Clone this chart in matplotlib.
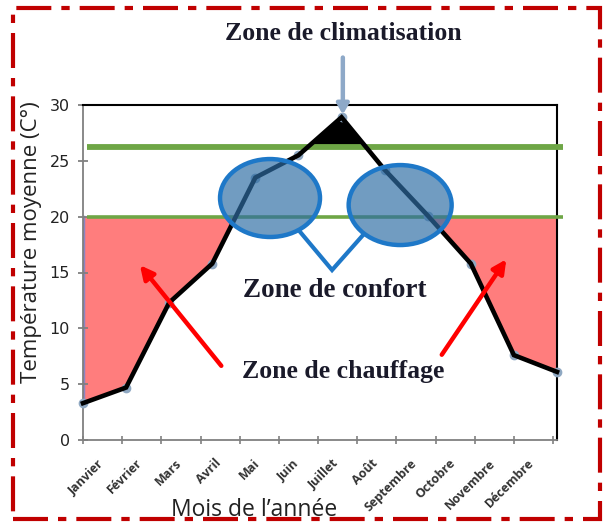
import numpy as np
import matplotlib
matplotlib.use("Agg")
import matplotlib.pyplot as plt
from matplotlib.patches import Ellipse, Rectangle
from matplotlib.transforms import ScaledTranslation

# ---- data ----
months = ['Janvier', 'Février', 'Mars', 'Avril', 'Mai', 'Juin', 'Juillet',
          'Août', 'Septembre', 'Octobre', 'Novembre', 'Décembre']
temps = [3.3, 4.7, 12.3, 15.8, 23.5, 25.5, 28.9, 24.2, 20.1, 15.8, 7.6, 6.1]
comfort_low = 20.0
comfort_high = 26.2
yticks = [0, 5, 10, 15, 20, 25, 30]

x = np.arange(len(months))
y = np.array(temps)

fig = plt.figure(figsize=(6.08, 5.22), dpi=100)
fig.patch.set_facecolor('white')

W, H = 608, 522
def fx(px): return px / W
def fy(py): return 1 - py / H

ax = fig.add_axes([fx(83), fy(440), fx(557) - fx(83), fy(105) - fy(440)])
ax.set_xlim(0, len(months) - 1)
ax.set_ylim(0, 30)

# heating zone fill
ax.fill_between(x, y, comfort_low, where=y <= comfort_low, interpolate=True,
                color='#FF7D7D', lw=0, zorder=1)
ax.plot([x[0], x[0]], [y[0], comfort_low], color='#8C84C4', lw=2.5, zorder=1.5)
ax.plot([x[-1], x[-1]], [y[-1], comfort_low], color='#B8C4E8', lw=1.5, zorder=1.5)
# cooling zone fill
ax.fill_between(x, y, comfort_high, where=y >= comfort_high, interpolate=True,
                color='black', lw=0, zorder=2)

# comfort limits
ax.plot([0.1, 11.15], [comfort_high, comfort_high], color='#6EA646', lw=4.2,
        zorder=3, clip_on=False, solid_capstyle='butt')
ax.plot([0.1, 11.15], [comfort_low, comfort_low], color='#6EA646', lw=2.6,
        zorder=3, clip_on=False, solid_capstyle='butt')

# temperature line
ax.plot(x, y, color='#8FA8C2', lw=0, marker='o', ms=6, zorder=3.5, clip_on=False)
ax.plot(x, y, color='black', lw=3.3, zorder=4, clip_on=False,
        solid_joinstyle='miter')

# comfort ellipses + connector
for (cx, cy, w, h) in [(4.34, 21.67, 2.32, 6.98), (7.36, 21.04, 2.39, 7.16)]:
    ax.add_patch(Ellipse((cx, cy), w, h, facecolor='#2E6DA4', alpha=0.68,
                         lw=0, zorder=5))
    ax.add_patch(Ellipse((cx, cy), w, h, facecolor='none', edgecolor='#1E78C8',
                         lw=3.2, zorder=5.5))
ax.plot([5.04, 5.78, 6.50], [18.63, 15.22, 18.36], color='#1E78C8', lw=3,
        zorder=5.5, solid_joinstyle='miter')

# arrows
ax.annotate('', xy=(6.03, 28.9), xytext=(6.03, 34.5), annotation_clip=False,
            arrowprops=dict(arrowstyle='-|>,head_width=0.35,head_length=0.6',
                            color='#8EA9C8', lw=3.2), zorder=6)
ax.annotate('', xy=(1.28, 15.85), xytext=(3.25, 6.45),
            arrowprops=dict(arrowstyle='-|>,head_width=0.4,head_length=0.8',
                            color='#FF0000', lw=3.2), zorder=6)
ax.annotate('', xy=(9.86, 16.39), xytext=(8.29, 7.43),
            arrowprops=dict(arrowstyle='-|>,head_width=0.4,head_length=0.8',
                            color='#FF0000', lw=3.2), zorder=6)

# zone texts
serif = ['Liberation Serif', 'DejaVu Serif']
ax.text(5.85, 13.43, 'Zone de confort', fontsize=19.5, fontweight='bold',
        family=serif, ha='center', va='center', color='#1A1A2A', zorder=7)
ax.text(6.03, 6.09, 'Zone de chauffage', fontsize=18.5, fontweight='bold',
        family=serif, ha='center', va='center', color='#1A1A2A', zorder=7)
fig.text(fx(343), fy(34), 'Zone de climatisation', fontsize=18.5,
         fontweight='bold', family=serif, ha='center', va='center',
         color='#1A1A2A')

# axes styling
for s in ['top', 'right']:
    ax.spines[s].set_color('black')
    ax.spines[s].set_linewidth(1.5)
for s in ['left', 'bottom']:
    ax.spines[s].set_color('#808080')
    ax.spines[s].set_linewidth(1.3)
ax.set_xticks([])
ax.set_yticks(yticks)
ax.set_yticklabels([str(v) for v in yticks],
                   family=['Liberation Sans Narrow', 'DejaVu Sans'],
                   fontsize=11.5, color='#222222')
ax.tick_params(axis='y', direction='inout', length=7, width=1.3,
               color='#808080', pad=6)
ax.set_ylabel('Température moyenne (C°)', family=['Open Sans', 'DejaVu Sans'],
              fontsize=16, color='#222222')
ax.yaxis.set_label_coords(-0.0865, 0.59)

# category axis (labels between ticks)
ax2 = fig.add_axes([fx(83), fy(440), fx(553) - fx(83), fy(105) - fy(440)])
ax2.patch.set_visible(False)
for s in ax2.spines.values():
    s.set_visible(False)
ax2.set_xlim(0, len(months))
ax2.set_ylim(0, 1)
ax2.set_yticks([])
ax2.set_xticks(np.arange(len(months) + 1))
ax2.set_xticklabels([])
ax2.set_xticks(np.arange(len(months)) + 0.5, minor=True)
ax2.set_xticklabels(months, minor=True, rotation=45, ha='right', va='top',
                    rotation_mode='anchor', fontsize=9,
                    family=['Open Sans', 'DejaVu Sans'], fontweight='bold',
                    color='#333333')
ax2.tick_params(axis='x', which='major', direction='inout', length=6,
                width=1.2, color='#808080')
ax2.tick_params(axis='x', which='minor', length=0, pad=12)
shift = ScaledTranslation(-6 / 100, 0, fig.dpi_scale_trans)
for lab in ax2.get_xticklabels(minor=True):
    lab.set_transform(lab.get_transform() + shift)
fig.text(fx(254), fy(510), 'Mois de l\u2019année', fontsize=16.5,
         family=['Open Sans', 'DejaVu Sans'], ha='center', va='center',
         color='#222222')

# dash-dot red border
border = Rectangle((fx(13), fy(519)), fx(600) - fx(13), fy(8) - fy(519),
                   transform=fig.transFigure, fill=False, edgecolor='#C00000',
                   lw=3, linestyle=(0, (8.4, 2.4, 2, 2.4)), zorder=10)
fig.add_artist(border)

fig.savefig('out.png', dpi=100)
